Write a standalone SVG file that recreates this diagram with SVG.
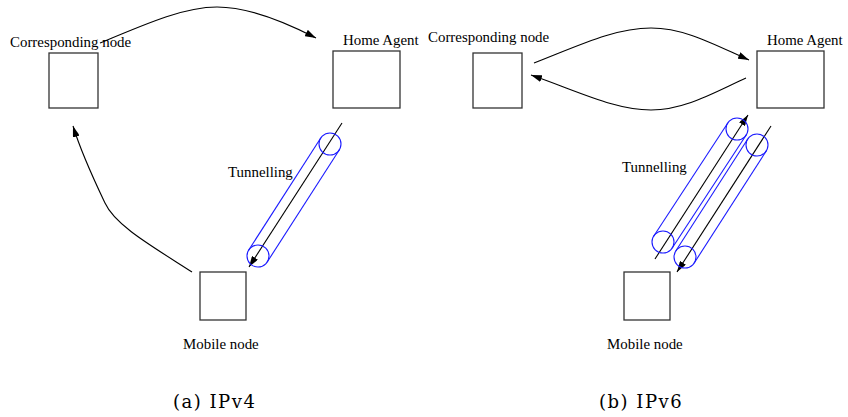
<svg xmlns="http://www.w3.org/2000/svg" width="848" height="417" viewBox="0 0 848 417">
<defs>
<marker id="ah" markerUnits="userSpaceOnUse" markerWidth="11" markerHeight="7" refX="11" refY="3.5" orient="auto">
<path d="M0,0 L11,3.5 L0,7 z" fill="#000"/>
</marker>
<style>
.box{fill:#fff;stroke:#333;stroke-width:1.3}
.lbl{font-family:"Liberation Serif",serif;font-size:14.9px;fill:#000}
.cap{font-family:"DejaVu Serif",serif;font-size:18px;letter-spacing:1.5px;fill:#000}
.con{fill:none;stroke:#000;stroke-width:1.1}
.arr{fill:none;stroke:#000;stroke-width:1.1;marker-end:url(#ah)}
.tun{fill:none;stroke:#1a1aff;stroke-width:1.1}
</style>
</defs>
<rect width="848" height="417" fill="#fff"/>

<g id="connectors">
<path class="arr" d="M100,43 C150,22 185,7 217,7 C250,7 285,22 316,38"/>
<path class="arr" d="M192,272 C150,245 115,225 105,203 C95,182 82,155 73,126"/>
<path class="arr" d="M342,123 L249,267"/>
<path class="arr" d="M534,63 C580,45 615,28 651,28 C685,28 715,45 749,60"/>
<path class="arr" d="M746,78 C715,92 685,110 651,110 C615,110 580,92 531,75"/>
<path class="arr" d="M655,259 L748,115"/>
<path class="arr" d="M771,126 L677,272"/>
</g>

<g id="tunnel-a">
<circle class="tun" cx="330" cy="144" r="11"/>
<circle class="tun" cx="258" cy="256" r="11"/>
<line class="tun" x1="339.25" y1="149.95" x2="267.25" y2="261.95"/>
<line class="tun" x1="320.75" y1="138.05" x2="248.75" y2="250.05"/>
<text class="lbl" x="228" y="177">Tunnelling</text>
</g>

<g id="tunnel-b">
<circle class="tun" cx="737" cy="129" r="11"/>
<circle class="tun" cx="663" cy="242" r="11"/>
<line class="tun" x1="746.2" y1="135" x2="672.2" y2="248"/>
<line class="tun" x1="727.8" y1="123" x2="653.8" y2="236"/>
<circle class="tun" cx="757" cy="145" r="11"/>
<circle class="tun" cx="685" cy="257" r="11"/>
<line class="tun" x1="766.25" y1="150.95" x2="694.25" y2="262.95"/>
<line class="tun" x1="747.75" y1="139.05" x2="675.75" y2="251.05"/>
<text class="lbl" x="622" y="172">Tunnelling</text>
</g>

<g id="cn-a">
<rect class="box" x="49" y="53" width="49" height="55"/>
<text class="lbl" x="10" y="47">Corresponding node</text>
</g>
<g id="ha-a">
<rect class="box" x="333" y="51" width="67" height="57"/>
<text class="lbl" x="343" y="45">Home Agent</text>
</g>
<g id="mn-a">
<rect class="box" x="200" y="272" width="46" height="48"/>
<text class="lbl" x="183" y="349">Mobile node</text>
</g>

<g id="cn-b">
<rect class="box" x="473" y="53" width="49" height="55"/>
<text class="lbl" x="428" y="42">Corresponding node</text>
</g>
<g id="ha-b">
<rect class="box" x="757" y="51" width="67" height="57"/>
<text class="lbl" x="767" y="45">Home Agent</text>
</g>
<g id="mn-b">
<rect class="box" x="624" y="272" width="46" height="48"/>
<text class="lbl" x="607" y="349">Mobile node</text>
</g>

<text class="cap" x="173" y="408">(a) IPv4</text>
<text class="cap" x="599" y="408">(b) IPv6</text>
</svg>
